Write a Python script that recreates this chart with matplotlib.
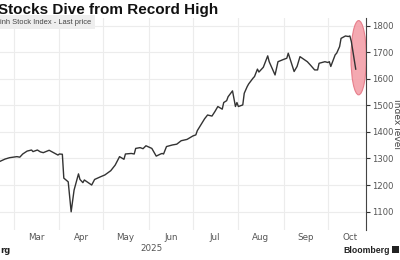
import matplotlib
matplotlib.use("Agg")
import matplotlib.pyplot as plt
import matplotlib.dates as mdates
from matplotlib.patches import Ellipse, Rectangle
import pandas as pd

# index level
dates = ["2025-02-19", "2025-02-23", "2025-02-26", "2025-03-03", "2025-03-05", "2025-03-07",
         "2025-03-10", "2025-03-13", "2025-03-14", "2025-03-17", "2025-03-19", "2025-03-21",
         "2025-03-25", "2025-03-27", "2025-03-31", "2025-04-01", "2025-04-03", "2025-04-04",
         "2025-04-07", "2025-04-09", "2025-04-11", "2025-04-14", "2025-04-15", "2025-04-17",
         "2025-04-18", "2025-04-23", "2025-04-25", "2025-04-29", "2025-05-02", "2025-05-06",
         "2025-05-09", "2025-05-12", "2025-05-15", "2025-05-16", "2025-05-20", "2025-05-22",
         "2025-05-23", "2025-05-26", "2025-05-28", "2025-05-30", "2025-06-03", "2025-06-06",
         "2025-06-09", "2025-06-10", "2025-06-11", "2025-06-13", "2025-06-17", "2025-06-20",
         "2025-06-23", "2025-06-27", "2025-07-01", "2025-07-03", "2025-07-04", "2025-07-09",
         "2025-07-11", "2025-07-14", "2025-07-16", "2025-07-18", "2025-07-21", "2025-07-22",
         "2025-07-24", "2025-07-25", "2025-07-28", "2025-07-30", "2025-07-31", "2025-08-01",
         "2025-08-04", "2025-08-05", "2025-08-07", "2025-08-08", "2025-08-11", "2025-08-12",
         "2025-08-14", "2025-08-15", "2025-08-18", "2025-08-21", "2025-08-22", "2025-08-26",
         "2025-08-28", "2025-09-01", "2025-09-03", "2025-09-04", "2025-09-08", "2025-09-10",
         "2025-09-12", "2025-09-17", "2025-09-19", "2025-09-22", "2025-09-24", "2025-09-25",
         "2025-09-29", "2025-10-01", "2025-10-02", "2025-10-03", "2025-10-06", "2025-10-07",
         "2025-10-09", "2025-10-10", "2025-10-13", "2025-10-15", "2025-10-16", "2025-10-17",
         "2025-10-20"]
values = [1288, 1298, 1303, 1307, 1305, 1317,
          1328, 1332, 1326, 1332, 1325, 1322,
          1331, 1325, 1313, 1317, 1316, 1226,
          1212, 1099, 1181, 1242, 1221, 1209,
          1219, 1200, 1221, 1231, 1238, 1254,
          1275, 1307, 1297, 1317, 1319, 1317,
          1338, 1341, 1337, 1348, 1338, 1309,
          1317, 1319, 1317, 1345, 1351, 1354,
          1367, 1372, 1385, 1389, 1405, 1450,
          1464, 1460, 1477, 1496, 1486, 1511,
          1518, 1533, 1555, 1496, 1511, 1496,
          1502, 1546, 1571, 1581, 1603, 1609,
          1637, 1626, 1644, 1687, 1665, 1615,
          1665, 1674, 1678, 1697, 1628, 1647,
          1684, 1665, 1653, 1634, 1634, 1659,
          1665, 1662, 1665, 1647, 1691, 1697,
          1722, 1753, 1762, 1760, 1762, 1741,
          1637]
y_ticks = [1100, 1200, 1300, 1400, 1500, 1600, 1700, 1800]

df = pd.DataFrame({"date": pd.to_datetime(dates), "value": values})

fig = plt.figure(figsize=(4, 2.6), dpi=100)
ax = fig.add_axes([0.0, 0.115, 0.915, 0.816])

ax.plot(df["date"], df["value"], color="#333333", linewidth=1.0, zorder=3)

# highlight of the last drop
hl = Ellipse((mdates.date2num(pd.Timestamp("2025-10-22")), 1680), width=10.5, height=280,
             facecolor="#f3a0a9", edgecolor="#e57583", linewidth=0.8, alpha=0.9, zorder=2)
ax.add_patch(hl)

ax.set_xlim(pd.Timestamp("2025-02-19 12:00"), pd.Timestamp("2025-10-27"))
ax.set_ylim(1030, 1830)

# gridlines at month starts, labels mid month
ax.xaxis.set_major_locator(mdates.MonthLocator())
ax.xaxis.set_major_formatter(plt.NullFormatter())
ax.xaxis.set_minor_locator(mdates.MonthLocator(bymonthday=16))
ax.xaxis.set_minor_formatter(mdates.DateFormatter("%b"))
ax.tick_params(axis="x", which="both", length=0, labelsize=6.3, colors="#555555", pad=2)

ax.yaxis.tick_right()
ax.yaxis.set_label_position("right")
ax.set_yticks(y_ticks)
ax.tick_params(axis="y", length=3, width=0.8, labelsize=6.1, colors="#333333",
               labelcolor="#555555", pad=1.5, direction="out")
ax.set_ylabel("Index level", rotation=270, fontsize=6.6, color="#444444", labelpad=5)

ax.grid(True, which="major", color="#ececec", linewidth=0.8)
ax.set_axisbelow(True)
for s in ["top", "left", "bottom"]:
    ax.spines[s].set_visible(False)
ax.spines["right"].set_color("#444444")
ax.spines["right"].set_linewidth(0.8)

ax.text(mdates.date2num(pd.Timestamp("2025-06-03")), -0.065, "2025", transform=ax.get_xaxis_transform(),
        ha="center", va="top", fontsize=6.3, color="#555555")

fig.text(-0.004, 0.99, "Stocks Dive from Record High", ha="left", va="top",
         fontsize=11, fontweight="bold", color="#111111", family="Liberation Sans")
fig.text(0.0, 0.915, "inh Stock Index - Last price", ha="left", va="center", fontsize=5.4,
         color="#444444", family="Liberation Sans",
         bbox=dict(boxstyle="square,pad=0.5", facecolor="#eeeeee", edgecolor="none"))

fig.text(0.0, 0.02, "rg", ha="left", va="bottom", fontsize=6, fontweight="bold", color="#222222")
fig.text(0.975, 0.02, "Bloomberg", ha="right", va="bottom", fontsize=6.3, fontweight="bold",
         color="#222222", family="Liberation Sans")
fig.patches.append(Rectangle((0.98, 0.028), 0.017, 0.026, transform=fig.transFigure,
                             facecolor="#222222", edgecolor="none"))

fig.savefig("out.png", dpi=100)
